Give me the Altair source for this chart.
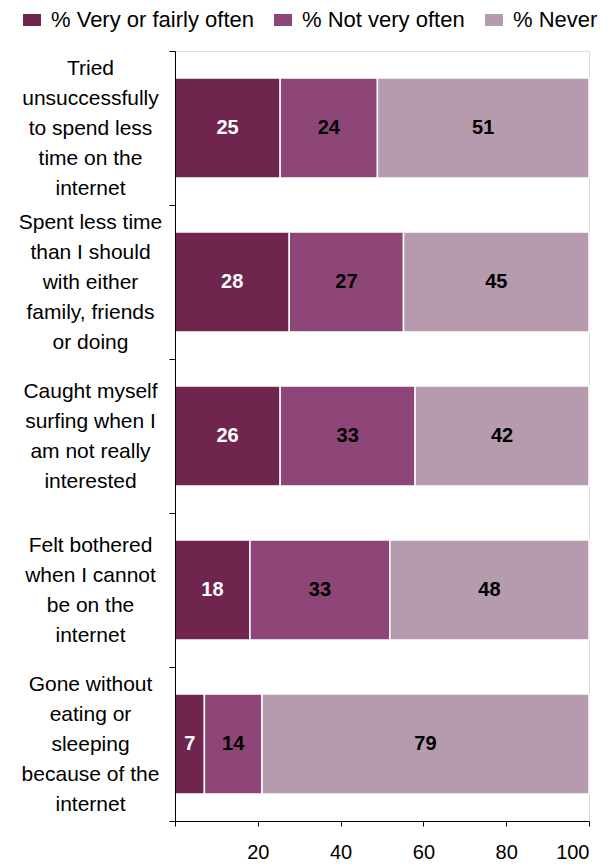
import altair as alt
import pandas as pd

questions = [
    "Tried|unsuccessfully|to spend less|time on the|internet",
    "Spent less time|than I should|with either|family, friends|or doing",
    "Caught myself|surfing when I|am not really|interested",
    "Felt bothered|when I cannot|be on the|internet",
    "Gone without|eating or|sleeping|because of the|internet",
]
series = ["% Very or fairly often", "% Not very often", "% Never"]

very_often = [25.4, 27.6, 25.4, 18.1, 7.1]
not_very_often = [23.5, 27.6, 32.6, 33.8, 13.9]
never = [51.1, 44.8, 42.0, 48.1, 79.0]

very_often_labels = ["25", "28", "26", "18", "7"]
not_very_often_labels = ["24", "27", "33", "33", "14"]
never_labels = ["51", "45", "42", "48", "79"]

colors = ["#70254F", "#8D4677", "#B69AAE"]
x_ticks = [0, 20, 40, 60, 80, 100]

rows = []
value_lists = [very_often, not_very_often, never]
label_lists = [very_often_labels, not_very_often_labels, never_labels]
for i, q in enumerate(questions):
    for j, s in enumerate(series):
        rows.append({"question": q, "series": s, "order": j,
                     "value": value_lists[j][i], "label": label_lists[j][i]})
df = pd.DataFrame(rows)

FONT = "Liberation Sans"
LINE_H = 30

base = alt.Chart(df).transform_stack(
    stack="value", groupby=["question"], as_=["x0", "x1"],
    sort=[alt.SortField("order", order="ascending")]
)

y_enc = alt.Y(
    "question:N", sort=questions,
    scale=alt.Scale(paddingInner=0, paddingOuter=0),
    axis=alt.Axis(
        title=None, labelExpr="split(datum.label, '|')",
        labelAlign="center", labelBaseline="middle", labelPadding=79,
        labelOffset={"condition": {"test": "length(split(datum.label, '|')) == 4",
                                   "value": -1.5 * LINE_H},
                     "value": -2 * LINE_H},
        tickSize=6, tickBand="extent", labelLineHeight=LINE_H,
        labelFont=FONT, labelFontSize=21, labelColor="black",
        domainColor="black", tickColor="black", labelLimit=0, zindex=1,
    ),
)
x_enc = alt.X(
    "x0:Q", scale=alt.Scale(domain=[0, 100], nice=False),
    axis=alt.Axis(
        title=None, values=x_ticks,
        labelExpr="datum.value == 0 ? '' : datum.label",
        tickSize=5, labelPadding=16, labelFont=FONT, labelFontSize=20,
        labelColor="black", domainColor="black", tickColor="black",
        grid=False, zindex=1,
    ),
)

bars = base.mark_bar(stroke="white", strokeWidth=1.5, height={"band": 0.65}).encode(
    y=y_enc,
    x=x_enc,
    x2="x1:Q",
    color=alt.Color(
        "series:N", sort=series,
        scale=alt.Scale(domain=series, range=colors),
        legend=alt.Legend(
            title=None, orient="none", direction="horizontal",
            legendX=-154, legendY=-42, padding=0,
            symbolType="M-1,-0.67L1,-0.67L1,0.67L-1,0.67Z",
            symbolSize=324, symbolStrokeWidth=0, symbolOpacity=1,
            labelFont=FONT, labelFontSize=22, labelColor="black",
            labelOffset=8, columnPadding=18, labelLimit=0,
        ),
    ),
)

texts = base.transform_calculate(mid="(datum.x0 + datum.x1) / 2").mark_text(
    font=FONT, fontSize=20, fontWeight="bold", align="center", baseline="middle"
).encode(
    y=alt.Y("question:N", sort=questions),
    x=alt.X("mid:Q"),
    text="label:N",
    color=alt.condition("datum.order == 0", alt.value("white"), alt.value("black")),
)

chart = alt.layer(bars, texts).properties(
    width=414, height=770,
    padding={"left": 175, "top": 51, "right": 21, "bottom": 44},
    autosize="none",
).configure_view(stroke=None).configure(font=FONT)

chart.save("out.html", embed_options={"renderer": "svg", "actions": False})
